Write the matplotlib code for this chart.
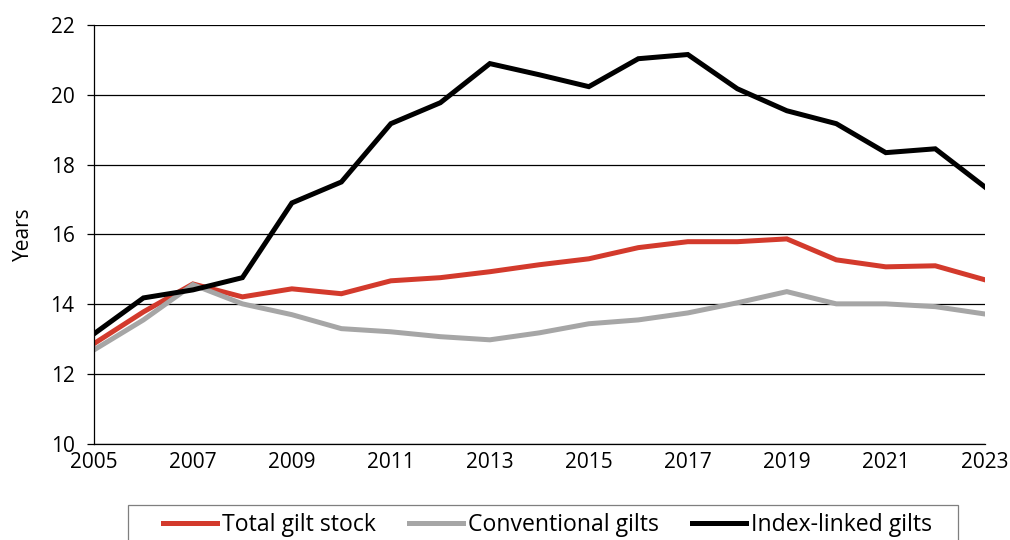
import numpy as np
import matplotlib.pyplot as plt
from matplotlib.patches import Rectangle

plt.rcParams['font.family'] = ['Open Sans', 'DejaVu Sans']

years = np.arange(2005, 2024)
total_gilt = [12.87, 13.78, 14.58, 14.21, 14.44, 14.30, 14.67, 14.76, 14.93, 15.13,
              15.30, 15.62, 15.79, 15.79, 15.87, 15.27, 15.07, 15.10, 14.70]
conventional = [12.69, 13.55, 14.56, 14.01, 13.70, 13.30, 13.21, 13.07, 12.98, 13.18,
                13.44, 13.55, 13.75, 14.04, 14.36, 14.01, 14.01, 13.93, 13.72]
index_linked = [13.15, 14.18, 14.41, 14.76, 16.90, 17.50, 19.17, 19.77, 20.89, 20.57,
                20.23, 21.03, 21.15, 20.17, 19.54, 19.17, 18.34, 18.45, 17.36]

fig = plt.figure(figsize=(10.1, 5.4), dpi=100)
ax = fig.add_axes([0.093, 0.178, 0.882, 0.776])

ax.plot(years, total_gilt, color='#d33a2c', lw=3.6, label='Total gilt stock', solid_joinstyle='miter')
ax.plot(years, conventional, color='#a6a6a6', lw=3.6, label='Conventional gilts', solid_joinstyle='miter')
ax.plot(years, index_linked, color='black', lw=3.6, label='Index-linked gilts', solid_joinstyle='miter')

ax.set_xlim(2005, 2023)
ax.set_ylim(10, 22)
ax.set_xticks(np.arange(2005, 2024, 2))
ax.set_yticks(np.arange(10, 23, 2))
ax.grid(axis='y', color='black', lw=0.9)
ax.set_axisbelow(True)
for s in ['top', 'right']:
    ax.spines[s].set_visible(False)
ax.spines['left'].set_linewidth(0.9)
ax.spines['bottom'].set_linewidth(0.9)
ax.tick_params(axis='y', length=5, width=0.9, labelsize=15, pad=9)
ax.tick_params(axis='x', length=0, labelsize=15, pad=6)
ax.set_ylabel('Years', fontsize=15, labelpad=12)

# legend frame drawn as a plain box running off the bottom edge
fig.patches.append(Rectangle((128 / 1010, -0.02), 830 / 1010, 0.02 + 35 / 540,
                             transform=fig.transFigure, fill=False,
                             edgecolor='#7f7f7f', lw=0.9))
leg = fig.legend(loc='center', bbox_to_anchor=(0.542, 0.028), ncol=3, fontsize=16.6,
                 frameon=False, handlelength=2.35, handletextpad=0.2,
                 columnspacing=1.45, borderaxespad=0)

fig.savefig('out.png', dpi=100)
